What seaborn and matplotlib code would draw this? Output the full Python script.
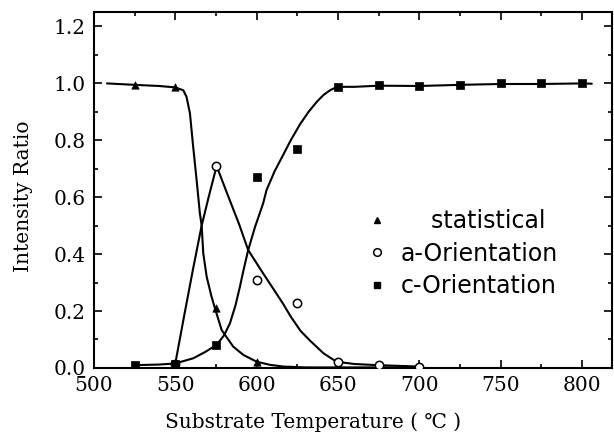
import numpy as np
import pandas as pd
import matplotlib
matplotlib.use("Agg")
import matplotlib.pyplot as plt
from matplotlib.lines import Line2D
from matplotlib.ticker import MultipleLocator
import seaborn as sns

# Style
sns.set_style("ticks")
plt.rcParams['font.family'] = ['DejaVu Serif', 'DejaVu Sans']
plt.rcParams['text.color'] = 'black'
plt.rcParams['axes.labelcolor'] = 'black'

# ============================================================================
# DATA
# ============================================================================

# measured points
stat_temp = [525, 550, 575, 600, 650, 675, 700]
stat_ratio = [0.993, 0.987, 0.209, 0.022, 0.010, 0.005, 0.005]

a_temp = [550, 575, 600, 625, 650, 675, 700]
a_ratio = [0.015, 0.709, 0.309, 0.227, 0.022, 0.010, 0.005]

c_temp = [525, 550, 575, 600, 625, 650, 675, 700, 725, 750, 775, 800]
c_ratio = [0.011, 0.014, 0.081, 0.669, 0.768, 0.987, 0.993, 0.991, 0.995, 1.000, 0.999, 1.000]

# hand-drawn guide curves, traced point by point
stat_curve_x = [508, 525, 540, 550, 554.9, 556.9, 559, 561, 563.1, 565.1, 566.2, 567.2,
                569.3, 572.3, 574.4, 578.5, 585.6, 591.8, 600, 608.2, 616.4, 630, 700]
stat_curve_y = [0.999, 0.994, 0.990, 0.985, 0.975, 0.952, 0.894, 0.776, 0.660, 0.543, 0.500, 0.402,
                0.320, 0.250, 0.209, 0.133, 0.075, 0.046, 0.022, 0.011, 0.005, 0.002, 0.002]

a_curve_x = [550, 556, 561, 566.2, 570.5, 575.4, 581.5, 589.2, 594.8, 604, 610, 616.3,
             621, 627, 633, 641, 649, 660, 674, 700]
a_curve_y = [0.016, 0.200, 0.350, 0.500, 0.600, 0.709, 0.618, 0.505, 0.414, 0.332, 0.280, 0.225,
             0.180, 0.130, 0.095, 0.052, 0.022, 0.014, 0.010, 0.005]

c_curve_x = [525, 540, 550, 561, 568, 575.4, 580, 583.6, 587, 589.7, 592, 594.8, 599, 604,
             606.1, 611, 616.3, 621, 626.6, 632, 636.9, 641, 645.1, 649.5, 660, 675, 700,
             725, 750, 775, 800, 806]
c_curve_y = [0.010, 0.012, 0.016, 0.034, 0.055, 0.081, 0.115, 0.157, 0.220, 0.285, 0.345, 0.414,
             0.495, 0.578, 0.625, 0.690, 0.748, 0.800, 0.855, 0.900, 0.934, 0.958, 0.975, 0.987,
             0.987, 0.991, 0.990, 0.994, 0.997, 0.997, 0.999, 0.998]

series_labels = ['statistical', 'a-Orientation', 'c-Orientation']

# ============================================================================
# PLOT
# ============================================================================

fig = plt.figure(figsize=(6.14, 4.36), dpi=100)
ax = fig.add_axes([0.153, 0.156, 0.844, 0.816])

for cx, cy in [(stat_curve_x, stat_curve_y), (a_curve_x, a_curve_y), (c_curve_x, c_curve_y)]:
    sns.lineplot(x=cx, y=cy, ax=ax, color='black', linewidth=1.5,
                 estimator=None, sort=False)

sns.scatterplot(x=stat_temp, y=stat_ratio, ax=ax, marker='^', s=28,
                color='black', edgecolor='black', linewidth=0.5, zorder=3)
sns.scatterplot(x=a_temp, y=a_ratio, ax=ax, marker='o', s=36,
                facecolor='white', edgecolor='black', linewidth=1.1, zorder=4)
sns.scatterplot(x=c_temp, y=c_ratio, ax=ax, marker='s', s=30,
                color='black', edgecolor='black', linewidth=0.5, zorder=5)

ax.set_xlim(500, 818.5)
ax.set_ylim(0, 1.249)
ax.xaxis.set_major_locator(MultipleLocator(50))
ax.xaxis.set_minor_locator(MultipleLocator(25))
ax.yaxis.set_minor_locator(MultipleLocator(0.1))
ax.set_yticks(np.arange(0, 1.21, 0.2))
ax.set_yticklabels([f'{v:.1f}' for v in np.arange(0, 1.21, 0.2)])

ax.tick_params(which='both', direction='in', top=True, right=True, width=1.2,
               labelsize=14.5, colors='black')
ax.tick_params(which='major', length=6, pad=6)
ax.tick_params(which='minor', length=3)
for sp in ax.spines.values():
    sp.set_linewidth(1.5)
    sp.set_color('black')

ax.set_xlabel('Substrate Temperature ( \u2103 )', fontsize=14.5)
ax.set_ylabel('Intensity Ratio', fontsize=14.5)
ax.xaxis.set_label_coords(0.423, -0.125)
ax.yaxis.set_label_coords(-0.118, 0.483)

handles = [
    Line2D([], [], linestyle='none', marker='^', markersize=5, color='black'),
    Line2D([], [], linestyle='none', marker='o', markersize=5.5,
           markerfacecolor='white', markeredgecolor='black', markeredgewidth=1.1),
    Line2D([], [], linestyle='none', marker='s', markersize=5, color='black'),
]
labels = ['    ' + series_labels[0], series_labels[1], series_labels[2]]
ax.legend(handles, labels, loc='center left', bbox_to_anchor=(0.5004, 0.3216),
          frameon=False, borderpad=0, handlelength=1.0, handletextpad=0.52,
          labelspacing=0.36, labelcolor='black',
          prop={'family': 'DejaVu Sans', 'size': 17})

fig.savefig('out.png', dpi=100)
